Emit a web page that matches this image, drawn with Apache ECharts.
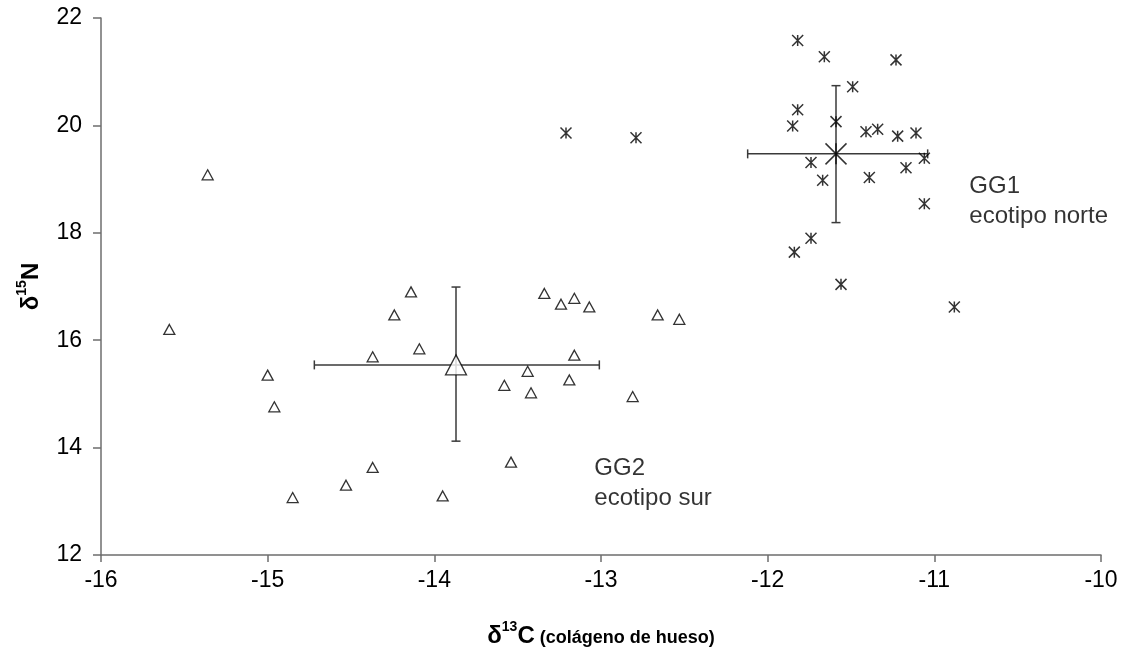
<!DOCTYPE html>
<html>
<head>
<meta charset="utf-8">
<script src="https://cdn.jsdelivr.net/npm/echarts@6/dist/echarts.min.js"></script>
<style>
html,body{margin:0;padding:0;background:#fff;}
#chart{width:1126px;height:653px;}
</style>
</head>
<body>
<div id="chart"></div>
<script>
// ---- data ----
const xTicks = [-16, -15, -14, -13, -12, -11, -10];
const yTicks = [12, 14, 16, 18, 20, 22];

// GG2 ecotipo sur (triangles): [d13C, d15N]
const gg2Points = [
  [-15.59, 16.20], [-15.36, 19.08], [-15.00, 15.35], [-14.96, 14.76], [-14.85, 13.07],
  [-14.53, 13.30], [-14.37, 13.63], [-14.37, 15.69], [-14.24, 16.47], [-14.14, 16.90],
  [-14.09, 15.84], [-13.95, 13.10], [-13.58, 15.16], [-13.54, 13.73], [-13.44, 15.42],
  [-13.42, 15.02], [-13.34, 16.87], [-13.24, 16.67], [-13.19, 15.26], [-13.16, 15.72],
  [-13.16, 16.78], [-13.07, 16.62], [-12.81, 14.95], [-12.66, 16.47], [-12.53, 16.39]
];

// GG1 ecotipo norte (asterisks): [d13C, d15N]
const gg1Points = [
  [-13.21, 19.86], [-12.79, 19.77], [-11.84, 17.64], [-11.85, 19.99], [-11.82, 21.58],
  [-11.82, 20.29], [-11.74, 19.31], [-11.74, 17.90], [-11.67, 18.98], [-11.66, 21.28],
  [-11.59, 20.07], [-11.56, 17.04], [-11.49, 20.72], [-11.41, 19.88], [-11.39, 19.03],
  [-11.34, 19.93], [-11.23, 21.22], [-11.22, 19.80], [-11.17, 19.21], [-11.11, 19.86],
  [-11.06, 19.39], [-11.06, 18.54], [-10.88, 16.62]
];

// group means with error ranges: [meanX, meanY, xLow, xHigh, yLow, yHigh]
const gg2Mean = [-13.87, 15.54, -14.72, -13.01, 14.12, 16.99];
const gg1Mean = [-11.59, 19.47, -12.12, -11.04, 18.19, 20.74];

// annotation text anchors [x, y] in data units
const gg2LabelPos = [-13.04, 13.34];
const gg1LabelPos = [-10.79, 18.58];
const gg2LabelText = 'GG2\necotipo sur';
const gg1LabelText = 'GG1\necotipo norte';

// ---- chart ----
const FONT = '"Liberation Sans", Arial, sans-serif';
const STAR = 'path://M5,0L5,10M0,0L10,10M0,10L10,0';

function errorBarRender(params, api) {
  const mx = api.value(0), my = api.value(1);
  const xl = api.value(2), xh = api.value(3), yl = api.value(4), yh = api.value(5);
  const pL = api.coord([xl, my]), pR = api.coord([xh, my]);
  const pT = api.coord([mx, yh]), pB = api.coord([mx, yl]);
  const c = 4.5;
  const style = {stroke: '#3a3a3a', lineWidth: 1.5};
  const seg = (x1, y1, x2, y2) => ({type: 'line', shape: {x1, y1, x2, y2}, style});
  return {
    type: 'group',
    children: [
      seg(pL[0], pL[1], pR[0], pR[1]),
      seg(pL[0], pL[1] - c, pL[0], pL[1] + c),
      seg(pR[0], pR[1] - c, pR[0], pR[1] + c),
      seg(pT[0], pT[1], pB[0], pB[1]),
      seg(pT[0] - c, pT[1], pT[0] + c, pT[1]),
      seg(pB[0] - c, pB[1], pB[0] + c, pB[1])
    ]
  };
}

const chart = echarts.init(document.getElementById('chart'), null, {renderer: 'canvas'});
chart.setOption({
  animation: false,
  backgroundColor: '#ffffff',
  grid: {left: 101, right: 25, top: 18, bottom: 98, containLabel: false},
  xAxis: {
    type: 'value', min: xTicks[0], max: xTicks[xTicks.length - 1], interval: 1,
    splitLine: {show: false},
    axisLine: {onZero: false, lineStyle: {color: '#6e6e6e', width: 1.5}},
    axisTick: {show: true, length: 7, inside: false, lineStyle: {color: '#6e6e6e', width: 1.5}},
    axisLabel: {color: '#000', fontSize: 23, fontFamily: FONT, margin: 14},
    name: '{d|δ}{s|13}{c|C}{p| (colágeno de hueso)}',
    nameLocation: 'middle', nameGap: 65,
    nameTextStyle: {
      rich: {
        d: {fontSize: 24, fontWeight: 'bold', fontFamily: FONT, color: '#000', lineHeight: 28, verticalAlign: 'bottom'},
        s: {fontSize: 14, fontWeight: 'bold', fontFamily: FONT, color: '#000', lineHeight: 28, verticalAlign: 'top'},
        c: {fontSize: 24, fontWeight: 'bold', fontFamily: FONT, color: '#000', lineHeight: 28, verticalAlign: 'bottom'},
        p: {fontSize: 18, fontWeight: 'bold', fontFamily: FONT, color: '#000', lineHeight: 28, verticalAlign: 'bottom', padding: [0, 0, 1, 0]}
      }
    }
  },
  yAxis: {
    type: 'value', min: yTicks[0], max: yTicks[yTicks.length - 1], interval: 2,
    splitLine: {show: false},
    axisLine: {onZero: false, lineStyle: {color: '#6e6e6e', width: 1.5}},
    axisTick: {show: true, length: 8, inside: false, lineStyle: {color: '#6e6e6e', width: 1.5}},
    axisLabel: {color: '#000', fontSize: 23, fontFamily: FONT, margin: 19},
    name: '{d|δ}{s|15}{n|N}',
    nameLocation: 'middle', nameRotate: 90, nameGap: 58,
    nameTextStyle: {
      rich: {
        d: {fontSize: 24, fontWeight: 'bold', fontFamily: FONT, color: '#000', lineHeight: 28, verticalAlign: 'bottom'},
        s: {fontSize: 14, fontWeight: 'bold', fontFamily: FONT, color: '#000', lineHeight: 28, verticalAlign: 'top'},
        n: {fontSize: 24, fontWeight: 'bold', fontFamily: FONT, color: '#000', lineHeight: 28, verticalAlign: 'bottom'}
      }
    }
  },
  series: [
    {
      name: 'errGG2', type: 'custom', renderItem: errorBarRender,
      data: [gg2Mean], z: 1, silent: true
    },
    {
      name: 'errGG1', type: 'custom', renderItem: errorBarRender,
      data: [gg1Mean], z: 1, silent: true
    },
    {
      name: 'GG2', type: 'scatter', data: gg2Points, symbol: 'triangle', symbolSize: [11, 10],
      itemStyle: {color: '#fff', borderColor: '#000', borderWidth: 1.3}, z: 3
    },
    {
      name: 'GG1', type: 'scatter', data: gg1Points, symbol: STAR, symbolSize: 11,
      itemStyle: {color: 'none', borderColor: '#000', borderWidth: 1.5}, z: 3
    },
    {
      name: 'GG2 mean', type: 'scatter', data: [[gg2Mean[0], gg2Mean[1]]], symbol: 'triangle', symbolSize: [21, 20],
      itemStyle: {color: '#fff', borderColor: '#000', borderWidth: 1.3}, z: 4
    },
    {
      name: 'GG1 mean', type: 'scatter', data: [[gg1Mean[0], gg1Mean[1]]], symbol: STAR, symbolSize: 21,
      itemStyle: {color: 'none', borderColor: '#000', borderWidth: 1.5}, z: 4
    },
    {
      name: 'labels', type: 'scatter', symbolSize: 0, silent: true,
      data: [
        {value: gg2LabelPos, label: {formatter: gg2LabelText}},
        {value: gg1LabelPos, label: {formatter: gg1LabelText}}
      ],
      label: {
        show: true, position: 'right', distance: 0, align: 'left', verticalAlign: 'middle',
        fontSize: 24, lineHeight: 30, color: '#000', fontFamily: FONT
      }
    }
  ]
});
</script>
</body>
</html>
